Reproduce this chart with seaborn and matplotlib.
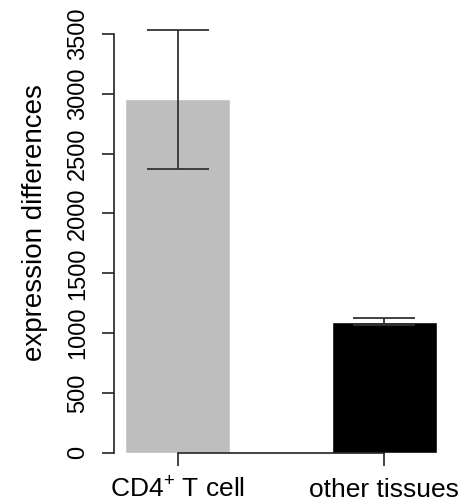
import numpy as np
import pandas as pd
import matplotlib
matplotlib.use("Agg")
import matplotlib.pyplot as plt
import seaborn as sns

# values
groups = ["CD4$^{+}$ T cell", "other tissues"]
means = [2955, 1095]
errors = [580, 30]
bar_colors = ["#bebebe", "#000000"]
y_ticks = [0, 500, 1000, 1500, 2000, 2500, 3000, 3500]

sns.set_style("ticks")
plt.rcParams["font.family"] = ["Liberation Sans", "DejaVu Sans"]
plt.rcParams["mathtext.fontset"] = "custom"
plt.rcParams["mathtext.rm"] = "Liberation Sans"
plt.rcParams["mathtext.it"] = "Liberation Sans"
plt.rcParams["mathtext.bf"] = "Liberation Sans"
plt.rcParams["text.color"] = "black"
plt.rcParams["axes.labelcolor"] = "black"
plt.rcParams["xtick.labelcolor"] = "black"
plt.rcParams["ytick.labelcolor"] = "black"

df = pd.DataFrame({"group": groups, "value": means})

fig = plt.figure(figsize=(4.74, 5.04), dpi=100)
ax = fig.add_axes([0.2637, 0.1018, 0.6582, 0.878])

sns.barplot(data=df, x="group", y="value", hue="group", palette=bar_colors,
            legend=False, width=0.51, errorbar=None, saturation=1, ax=ax)

ax.errorbar(np.arange(len(means)), means, yerr=errors, fmt="none",
            ecolor="#333333", elinewidth=1.3, capsize=22.3, capthick=1.3,
            zorder=3)

ax.set_xlim(-0.255, 1.255)
ax.set_ylim(0, 3700)
ax.set_yticks(y_ticks)
ax.set_xticks(range(len(groups)))
ax.set_xticklabels(groups)

ax.set_xlabel("")
ax.set_ylabel("expression differences", fontsize=20, color="black")
ax.yaxis.set_label_coords(-0.248, 0.519)

sns.despine(ax=ax)
ax.spines["left"].set_position(("outward", 8))
ax.spines["left"].set_bounds(0, 3500)
ax.spines["bottom"].set_bounds(0, 1)
for s in ("left", "bottom"):
    ax.spines[s].set_linewidth(1.2)
    ax.spines[s].set_color("#222222")
ax.tick_params(axis="both", length=9, width=1.2, color="#222222",
               labelcolor="black")
ax.tick_params(axis="y", pad=9, labelsize=17, labelrotation=90)
ax.tick_params(axis="x", pad=9, labelsize=19)

for lab in ax.get_yticklabels():
    lab.set_verticalalignment("center")
    lab.set_family(["Liberation Sans Narrow", "Liberation Sans"])

fig.savefig("out.png", dpi=100, facecolor="white")
